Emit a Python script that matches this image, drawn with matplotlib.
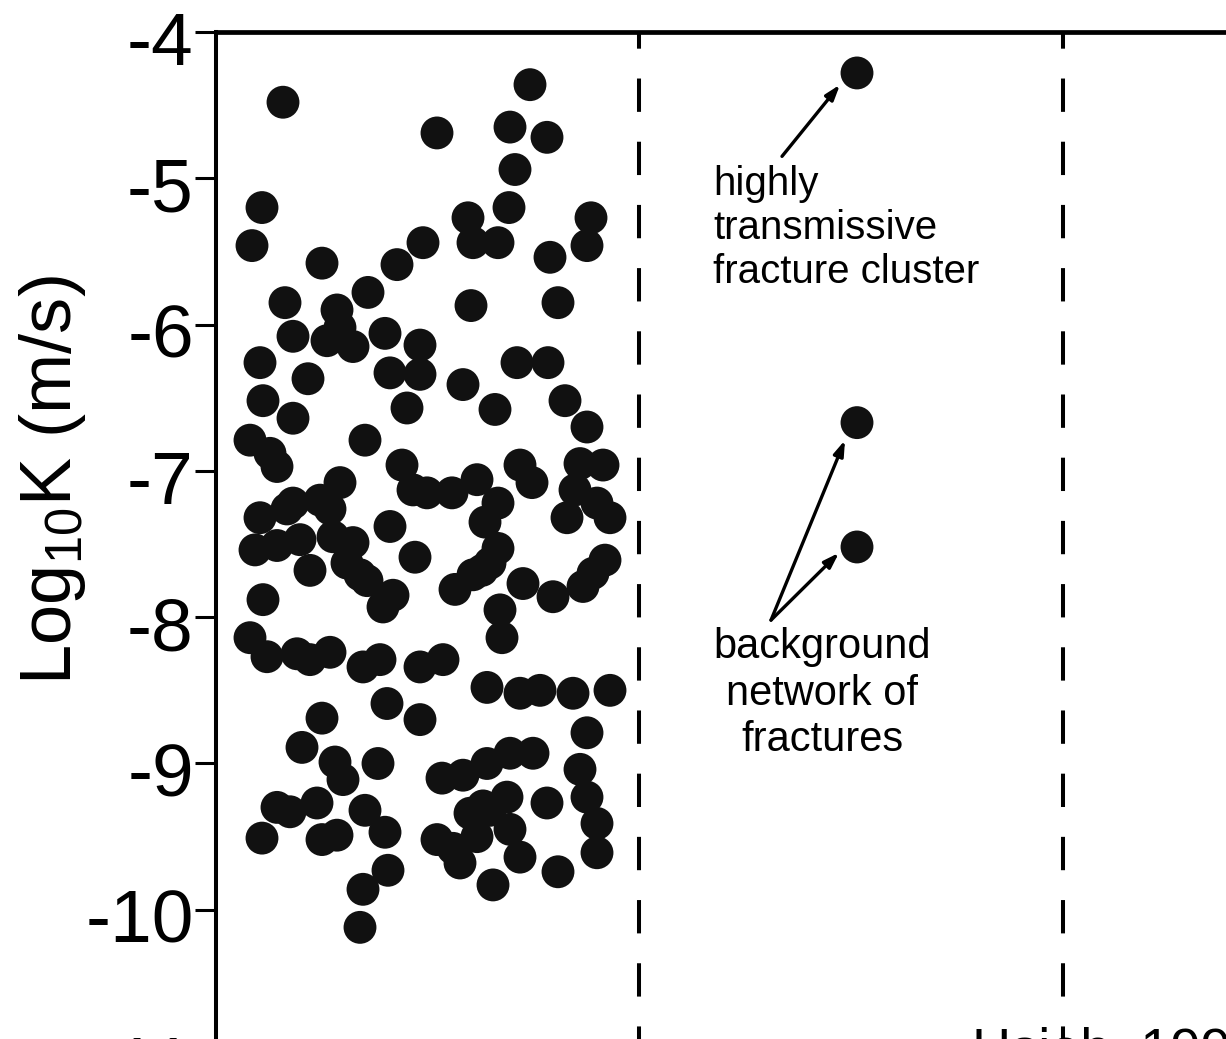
import matplotlib
matplotlib.use("Agg")
import matplotlib.pyplot as plt
from matplotlib.transforms import ScaledTranslation

plt.rcParams['axes.unicode_minus'] = False
plt.rcParams['mathtext.default'] = 'regular'
plt.rcParams['lines.scale_dashes'] = False

# horizontal position inside the first column (column width ~423) and log10 K values
col_x = [67, 314, 221, 294, 331, 299, 293, 46, 36, 252, 257, 282, 375, 371, 334, 207, 181, 106, 152, 69,
         121, 255, 342, 77, 111, 137, 169, 204, 44, 92, 47, 77, 174, 204, 191, 301, 332, 247, 279, 349,
         371, 34, 61, 149, 186, 124, 211, 236, 261, 304, 316, 282, 269, 364, 387, 359, 381, 394, 351, 44,
         77, 104, 174, 39, 117, 137, 94, 151, 167, 47, 199, 177, 282, 266, 239, 307, 337, 367, 389, 377,
         284, 286, 34, 51, 94, 114, 164, 227, 204, 171, 204, 271, 304, 324, 357, 394, 371, 106, 86, 119,
         127, 162, 226, 271, 294, 317, 364, 61, 74, 101, 149, 169, 46, 106, 121, 172, 147, 144, 274, 291,
         254, 294, 304, 277, 331, 371, 381, 381, 342, 221, 244,
         54, 71, 114, 61, 84, 131, 144, 81, 147, 197, 274, 257, 247, 267, 261, 237, 124]
logk = [-4.48, -4.36, -4.69, -4.65, -4.72, -4.94, -5.20, -5.20, -5.46, -5.27, -5.44, -5.44, -5.27, -5.46,
        -5.54, -5.44, -5.59, -5.58, -5.78, -5.85, -5.90, -5.87, -5.85, -6.08, -6.11, -6.15, -6.06, -6.14,
        -6.26, -6.37, -6.52, -6.64, -6.33, -6.34, -6.57, -6.26, -6.26, -6.41, -6.58, -6.52, -6.70, -6.79,
        -6.97, -6.79, -6.96, -7.08, -7.15, -7.15, -7.06, -6.96, -7.08, -7.22, -7.35, -6.95, -6.96, -7.13,
        -7.22, -7.32, -7.32, -7.32, -7.22, -7.20, -7.38, -7.54, -7.45, -7.49, -7.68, -7.75, -7.93, -7.88,
        -7.59, -7.85, -7.53, -7.68, -7.81, -7.77, -7.86, -7.79, -7.61, -7.70, -7.95, -8.14, -8.14, -8.27,
        -8.29, -8.24, -8.29, -8.29, -8.34, -8.59, -8.70, -8.48, -8.52, -8.50, -8.52, -8.50, -8.79, -8.69,
        -8.89, -8.99, -9.11, -9.00, -9.10, -9.00, -8.93, -8.93, -9.04, -9.30, -9.33, -9.27, -9.32, -9.47,
        -9.51, -9.52, -9.49, -9.73, -9.86, -10.12, -9.32, -9.23, -9.34, -9.45, -9.64, -9.83, -9.27, -9.23,
        -9.41, -9.61, -9.74, -9.52, -9.68,
        -6.88, -7.26, -7.26, -7.51, -7.47, -7.63, -7.71, -8.25, -8.34, -7.13, -7.63, -7.71, -9.08, -9.29,
        -9.50, -9.58, -6.02]

# the three annotated example points in the middle column
ex_x = [641, 641, 641]
ex_logk = [-4.28, -6.67, -7.52]

col_edges = [423, 847]
yticks = [-11, -10, -9, -8, -7, -6, -5, -4]

fig = plt.figure(figsize=(12.26, 10.39), dpi=100)
ax = fig.add_axes([0.17618, -0.08686, 1.0359, 1.05606])
ax.set_xlim(0, 1270)
ax.set_ylim(-11.5, -4)

ax.scatter(col_x, logk, s=560, color='#111111', edgecolors='none', zorder=3)
ax.scatter(ex_x, ex_logk, s=560, color='#111111', edgecolors='none', zorder=3)

for cx in col_edges:
    ax.plot([cx, cx], [-4, -11.5], color='black', lw=2.9,
            linestyle=(12, (24, 21.5)), solid_capstyle='butt', dash_capstyle='butt')

ax.spines['left'].set_linewidth(2.9)
ax.spines['top'].set_linewidth(3.4)
ax.spines['right'].set_visible(False)
ax.spines['bottom'].set_visible(False)
ax.set_xticks([])
ax.set_yticks(yticks)
ax.set_yticklabels([str(t) for t in yticks])
ax.tick_params(axis='y', direction='out', length=15, width=2.2, pad=1)
shift = ScaledTranslation(0, -6 / 100, fig.dpi_scale_trans)
for lab in ax.get_yticklabels():
    lab.set_family(['Liberation Sans Narrow', 'Liberation Sans', 'DejaVu Sans'])
    lab.set_fontsize(54)
    lab.set_transform(lab.get_transform() + shift)

fig.text(52 / 1226, 1 - 480 / 1039, 'Log$_{10}$K (m/s)', rotation=90, fontsize=52,
         family=['Liberation Sans', 'DejaVu Sans'], ha='center', va='center')

arrow = dict(arrowstyle='-|>,head_length=0.9,head_width=0.3', color='black', lw=2.4,
             shrinkA=0, shrinkB=0)
ax.annotate('', xy=(624, -4.36), xytext=(566, -4.85), arrowprops=arrow)
ax.annotate('', xy=(629, -6.79), xytext=(555, -8.02), arrowprops=arrow)
ax.annotate('', xy=(623, -7.56), xytext=(555, -8.02), arrowprops=arrow)

ax.text(497, -4.91, 'highly\ntransmissive\nfracture cluster', fontsize=29,
        family=['Liberation Sans', 'DejaVu Sans'], ha='left', va='top', linespacing=1.2)
ax.text(606, -8.07, 'background\nnetwork of\nfractures', fontsize=30,
        family=['Liberation Sans', 'DejaVu Sans'], ha='center', va='top', linespacing=1.2,
        multialignment='center')

fig.text(972 / 1226, 1 - 1066 / 1039, 'Hsieh, 1998', fontsize=39,
         family=['Liberation Sans', 'DejaVu Sans'], ha='left', va='baseline')

fig.savefig('out.png', dpi=100)
